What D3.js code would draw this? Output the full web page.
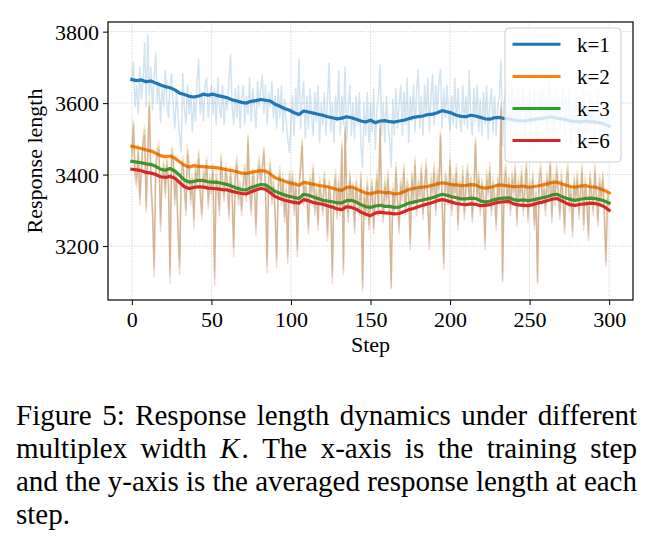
<!DOCTYPE html>
<html><head><meta charset="utf-8">
<script src="https://cdn.jsdelivr.net/npm/d3@7"></script>
<style>body{margin:0;background:#fff}svg{display:block}</style>
</head><body><svg id="c" width="655" height="547"></svg>
<script>
const seriesNames = ["k=1", "k=2", "k=3", "k=6"];
const seriesColors = ["#1f77b4", "#ff7f0e", "#2ca02c", "#d62728"];
const xTicks = [0, 50, 100, 150, 200, 250, 300];
const yTicks = [3200, 3400, 3600, 3800];
const xLabel = "Step";
const yLabel = "Response length";

// raw per-step values (steps 0..300)
const rawK1 = [
3660,3715,3590,3650,3570,3700,3610,3660,3768,3590,
3790,3620,3700,3580,3670,3740,3600,3660,3545,3640,
3590,3692,3600,3560,3650,3683,3590,3530,3630,3570,
3510,3463,3683,3590,3540,3650,3570,3630,3520,3610,
3550,3660,3723,3570,3630,3550,3650,3670,3560,3620,
3650,3570,3640,3540,3670,3590,3560,3650,3540,3620,
3580,3660,3736,3590,3540,3640,3560,3650,3530,3610,
3650,3540,3620,3570,3670,3550,3640,3590,3530,3660,
3590,3640,3678,3570,3650,3540,3630,3590,3660,3560,
3620,3530,3640,3560,3650,3520,3610,3550,3500,3463,
3540,3620,3510,3640,3560,3723,3530,3610,3660,3500,
3620,3530,3640,3560,3510,3630,3550,3650,3490,3600,
3540,3630,3510,3610,3712,3520,3600,3490,3620,3550,
3690,3510,3620,3540,3701,3490,3590,3650,3510,3600,
3500,3620,3540,3630,3480,3421,3600,3510,3630,3490,
3600,3520,3640,3470,3580,3620,3706,3510,3600,3490,
3620,3540,3500,3421,3610,3510,3640,3530,3600,3650,
3510,3630,3540,3670,3490,3620,3550,3650,3520,3640,
3694,3530,3620,3510,3650,3560,3670,3520,3620,3680,
3540,3650,3570,3660,3694,3530,3640,3560,3650,3570,
3524,3620,3540,3670,3530,3640,3560,3520,3650,3540,
3620,3530,3692,3560,3510,3640,3550,3650,3520,3610,
3510,3630,3540,3650,3500,3600,3640,3520,3620,3510,
3590,3620,3720,3480,3600,3640,3520,3620,3500,3650,
3530,3620,3510,3640,3520,3600,3650,3500,3620,3540,
3630,3510,3600,3650,3520,3490,3630,3540,3650,3550,
3620,3520,3670,3540,3630,3500,3640,3550,3650,3520,
3600,3640,3510,3620,3540,3650,3490,3600,3520,3630,
3540,3500,3620,3520,3640,3490,3590,3510,3630,3520,
3600,3500,3580,3630,3510,3490,3600,3520,3500,3580,
3530];
const rawK2 = [
3465,3555,3415,3390,3485,3345,3430,3505,3540,3325,
3475,3615,3395,3315,3160,3435,3480,3495,3280,3410,
3445,3365,3455,3390,3140,3480,3465,3345,3410,3270,
3160,3415,3455,3380,3320,3485,3430,3345,3400,3290,
3435,3390,3470,3365,3305,3420,3395,3450,3335,3400,
3375,3430,3130,3415,3380,3315,3460,3395,3350,3435,
3390,3305,3425,3360,3215,3410,3455,3340,3385,3310,
3395,3430,3355,3515,3370,3315,3420,3395,3265,3410,
3455,3390,3435,3480,3375,3165,3400,3445,3340,3395,
3315,3175,3380,3425,3340,3405,3295,3370,3185,3410,
3365,3410,3315,3390,3205,3375,3430,3500,3345,3390,
3355,3265,3400,3365,3430,3315,3370,3275,3395,3350,
3315,3410,3365,3245,3390,3345,3135,3370,3415,3300,
3395,3310,3495,3155,3545,3365,3295,3410,3345,3380,
3265,3395,3340,3315,3410,3105,3365,3300,3395,3270,
3345,3390,3265,3350,3415,3310,3550,3345,3290,3395,
3340,3415,3300,3105,3375,3310,3435,3340,3265,3390,
3355,3430,3315,3390,3365,3225,3410,3345,3450,3315,
3390,3355,3430,3305,3380,3445,3340,3225,3405,3360,
3435,3310,3415,3370,3525,3355,3170,3410,3395,3340,
3455,3315,3400,3365,3430,3275,3395,3340,3425,3300,
3385,3430,3345,3400,3295,3370,3505,3345,3410,3315,
3390,3355,3225,3415,3360,3435,3310,3395,3350,3275,
3400,3345,3600,3125,3395,3430,3345,3400,3315,3410,
3365,3430,3285,3395,3350,3425,3310,3375,3440,3295,
3390,3345,3410,3275,3365,3120,3400,3435,3340,3385,
3315,3410,3365,3450,3295,3400,3345,3430,3375,3300,
3415,3350,3265,3390,3435,3320,3375,3255,3400,3345,
3410,3305,3365,3430,3275,3395,3340,3245,3410,3365,
3315,3430,3355,3285,3400,3345,3410,3305,3180,3360,
3335];
const rawK3 = [
3450,3545,3400,3380,3470,3330,3420,3490,3525,3310,
3460,3600,3380,3300,3137,3420,3470,3480,3260,3400,
3430,3350,3440,3380,3120,3470,3450,3330,3400,3250,
3141,3400,3440,3370,3300,3470,3420,3330,3390,3272,
3420,3380,3460,3350,3290,3410,3380,3440,3320,3390,
3360,3420,3110,3400,3370,3300,3450,3380,3340,3420,
3380,3290,3410,3350,3195,3400,3440,3330,3370,3300,
3380,3420,3340,3505,3360,3300,3410,3380,3250,3400,
3440,3380,3420,3470,3360,3146,3390,3430,3330,3380,
3300,3160,3370,3410,3330,3390,3280,3360,3169,3400,
3350,3400,3300,3380,3188,3360,3420,3491,3330,3380,
3340,3250,3390,3350,3420,3300,3360,3260,3380,3340,
3300,3400,3350,3230,3380,3330,3114,3360,3400,3290,
3380,3300,3484,3137,3533,3350,3280,3400,3330,3370,
3250,3380,3330,3300,3400,3085,3350,3290,3380,3260,
3330,3380,3250,3340,3400,3300,3543,3330,3280,3380,
3330,3400,3290,3085,3360,3300,3420,3330,3250,3380,
3340,3420,3300,3380,3350,3207,3400,3330,3440,3300,
3380,3340,3420,3290,3370,3430,3330,3207,3390,3350,
3420,3300,3400,3360,3515,3340,3151,3400,3380,3330,
3440,3300,3390,3350,3420,3260,3380,3330,3410,3290,
3370,3420,3330,3390,3280,3360,3496,3330,3400,3300,
3380,3340,3207,3400,3350,3420,3300,3380,3340,3260,
3390,3330,3590,3105,3380,3420,3330,3390,3300,3400,
3350,3420,3270,3380,3340,3410,3300,3360,3430,3280,
3380,3330,3400,3260,3350,3100,3390,3420,3330,3370,
3300,3400,3350,3440,3280,3390,3330,3420,3360,3290,
3400,3340,3250,3380,3420,3310,3360,3240,3390,3330,
3400,3290,3350,3420,3260,3380,3330,3230,3400,3350,
3300,3420,3340,3270,3390,3330,3400,3290,3155,3350,
3320];
const rawK6 = [
3440,3535,3385,3365,3460,3315,3405,3480,3510,3295,
3450,3590,3365,3285,3115,3405,3455,3470,3240,3385,
3420,3335,3425,3365,3095,3455,3440,3315,3385,3230,
3120,3385,3430,3355,3285,3455,3405,3315,3375,3250,
3405,3365,3445,3335,3275,3395,3365,3425,3305,3375,
3345,3405,3090,3385,3355,3285,3435,3365,3325,3405,
3365,3275,3395,3335,3170,3385,3425,3315,3355,3285,
3365,3405,3325,3490,3345,3285,3395,3365,3230,3385,
3425,3365,3405,3460,3345,3125,3375,3415,3315,3365,
3285,3140,3355,3395,3315,3375,3265,3345,3150,3385,
3335,3385,3285,3365,3170,3345,3405,3480,3315,3365,
3325,3235,3375,3335,3405,3285,3345,3245,3365,3325,
3285,3385,3335,3215,3365,3315,3095,3345,3385,3275,
3365,3285,3470,3120,3520,3335,3265,3385,3315,3355,
3235,3365,3315,3285,3385,3075,3335,3275,3365,3245,
3315,3365,3235,3325,3385,3285,3530,3315,3265,3365,
3315,3385,3275,3080,3345,3285,3405,3315,3235,3365,
3325,3405,3285,3365,3335,3190,3385,3315,3425,3285,
3365,3325,3405,3275,3355,3415,3315,3190,3375,3335,
3405,3285,3385,3345,3505,3325,3135,3385,3365,3315,
3425,3285,3375,3335,3405,3245,3365,3315,3395,3275,
3355,3405,3315,3375,3265,3345,3485,3315,3385,3285,
3365,3325,3190,3385,3335,3405,3285,3365,3325,3245,
3375,3315,3580,3100,3365,3405,3315,3375,3285,3385,
3335,3405,3255,3365,3325,3395,3285,3345,3415,3265,
3365,3315,3385,3245,3335,3095,3375,3405,3315,3355,
3285,3385,3335,3425,3265,3375,3315,3405,3345,3275,
3385,3325,3235,3365,3405,3295,3345,3225,3375,3315,
3385,3275,3335,3405,3245,3365,3315,3215,3385,3335,
3285,3405,3325,3255,3375,3315,3385,3275,3145,3335,
3300];

// smoothed values every 3 steps (0,3,...,300)
const smoothK1 = [3666,3663,3665,3660,3662,3656,3651,3646,3643,3637,3628,3624,3619,3617,3620,3625,3622,3625,3621,3618,3615,3609,3606,3602,3600,3605,3607,3610,3608,3606,3597,3591,3585,3580,3573,3568,3578,3575,3572,3569,3566,3562,3559,3556,3558,3562,3559,3555,3550,3547,3552,3545,3550,3551,3548,3547,3550,3552,3556,3560,3562,3564,3568,3569,3573,3579,3576,3572,3566,3563,3562,3566,3564,3560,3556,3555,3559,3560,3557,3556,3553,3551,3550,3552,3554,3556,3557,3560,3561,3558,3556,3553,3550,3549,3547,3550,3548,3547,3545,3542,3535];
const smoothK2 = [3479,3476,3473,3469,3466,3460,3453,3450,3452,3446,3436,3426,3421,3425,3423,3422,3421,3420,3419,3416,3413,3411,3408,3404,3403,3406,3409,3411,3410,3402,3391,3386,3381,3377,3374,3370,3378,3376,3373,3370,3368,3366,3362,3358,3356,3364,3365,3360,3354,3348,3346,3350,3352,3349,3350,3346,3347,3352,3358,3361,3364,3365,3367,3370,3374,3377,3375,3372,3371,3369,3370,3372,3371,3365,3362,3364,3368,3371,3370,3368,3366,3367,3368,3365,3366,3368,3371,3374,3378,3379,3374,3370,3366,3365,3368,3369,3366,3365,3361,3356,3349];
const smoothK3 = [3437,3435,3433,3430,3428,3423,3415,3412,3417,3410,3398,3385,3379,3381,3384,3383,3380,3379,3378,3375,3372,3367,3362,3358,3357,3364,3368,3372,3371,3362,3353,3348,3343,3339,3336,3333,3345,3342,3337,3333,3328,3326,3324,3321,3321,3327,3328,3323,3316,3310,3308,3312,3314,3311,3311,3308,3309,3314,3320,3323,3326,3329,3332,3335,3340,3345,3342,3338,3335,3332,3332,3334,3333,3327,3323,3326,3330,3333,3334,3335,3330,3328,3329,3327,3329,3332,3335,3338,3343,3345,3339,3334,3330,3328,3331,3333,3334,3333,3330,3326,3320];
const smoothK6 = [3415,3413,3411,3406,3404,3400,3394,3392,3395,3390,3378,3366,3361,3364,3366,3365,3362,3361,3360,3358,3357,3353,3350,3347,3346,3352,3357,3361,3359,3349,3339,3333,3328,3325,3322,3320,3330,3327,3322,3319,3317,3313,3309,3304,3302,3310,3308,3303,3295,3289,3285,3292,3295,3293,3292,3290,3291,3296,3302,3305,3310,3314,3318,3322,3327,3330,3327,3323,3319,3317,3316,3318,3317,3313,3314,3316,3320,3323,3324,3325,3318,3315,3314,3313,3316,3320,3323,3327,3331,3333,3327,3320,3315,3314,3317,3318,3320,3319,3316,3310,3300];

const captionLines = [
  [["Figure",0],["5:",0],["Response",0],["length",0],["dynamics",0],["under",0],["different",0]],
  [["multiplex",0],["width",0],["K",1],[".",0],["The",0],["x-axis",0],["is",0],["the",0],["training",0],["step",0]],
  [["and",0],["the",0],["y-axis",0],["is",0],["the",0],["averaged",0],["response",0],["length",0],["at",0],["each",0]],
  [["step.",0]]
];

const rawData = [rawK1, rawK2, rawK3, rawK6];
const smoothData = [smoothK1, smoothK2, smoothK3, smoothK6];
const SMOOTH_EVERY = 3;

const FONT = "'Liberation Serif','Times New Roman',Times,serif";
const svg = d3.select("#c");
const L = 108, R = 633, T = 22, B = 300;
const x = d3.scaleLinear().domain([-15, 315]).range([L, R]);
const y = d3.scaleLinear().domain([3049, 3827]).range([B, T]);

// grid
const grid = svg.append("g");
grid.selectAll("line.gx").data(xTicks).join("line")
  .attr("x1", d => x(d)).attr("x2", d => x(d)).attr("y1", T).attr("y2", B)
  .attr("stroke", "#b0b0b0").attr("stroke-width", 0.8).attr("stroke-dasharray", "1,1.6").attr("opacity", 0.8);
grid.selectAll("line.gy").data(yTicks).join("line")
  .attr("y1", d => y(d)).attr("y2", d => y(d)).attr("x1", L).attr("x2", R)
  .attr("stroke", "#b0b0b0").attr("stroke-width", 0.8).attr("stroke-dasharray", "1,1.6").attr("opacity", 0.8);

const rawLine = d3.line().x((d, i) => x(i)).y(d => y(d));
const smLine = d3.line().x((d, i) => x(i * SMOOTH_EVERY)).y(d => y(d));

const plot = svg.append("g");
for (let s = 0; s < 4; s++) {
  plot.append("path").attr("d", rawLine(rawData[s]))
    .attr("fill", "none").attr("stroke", seriesColors[s]).attr("stroke-width", 1.5)
    .attr("stroke-opacity", 0.2).attr("stroke-linejoin", "round");
  plot.append("path").attr("d", smLine(smoothData[s]))
    .attr("fill", "none").attr("stroke", seriesColors[s]).attr("stroke-width", 3.2)
    .attr("stroke-linejoin", "round").attr("stroke-linecap", "square");
}

// axes
const xAxis = svg.append("g").attr("transform", `translate(0,${B})`)
  .call(d3.axisBottom(x).tickValues(xTicks).tickSize(5).tickPadding(4).tickFormat(d3.format("d")));
const yAxis = svg.append("g").attr("transform", `translate(${L},0)`)
  .call(d3.axisLeft(y).tickValues(yTicks).tickSize(5).tickPadding(4).tickFormat(d3.format("d")));
[xAxis, yAxis].forEach(a => {
  a.select(".domain").remove();
  a.selectAll(".tick line").attr("stroke", "#000").attr("stroke-width", 1);
  a.selectAll(".tick text").attr("font-family", FONT).attr("font-size", 22).attr("fill", "#000");
});
yAxis.selectAll(".tick text").attr("dy", "0.34em");
xAxis.selectAll(".tick text").attr("dy", "0.8em");

svg.append("rect").attr("x", L).attr("y", T).attr("width", R - L).attr("height", B - T)
  .attr("fill", "none").attr("stroke", "#000").attr("stroke-width", 1.2);

svg.append("text").attr("x", (L + R) / 2).attr("y", 352).attr("text-anchor", "middle")
  .attr("font-family", FONT).attr("font-size", 22).text(xLabel);
svg.append("text").attr("transform", `translate(42,${(T + B) / 2}) rotate(-90)`).attr("text-anchor", "middle")
  .attr("font-family", FONT).attr("font-size", 22).text(yLabel);

// legend
const lg = svg.append("g");
lg.append("rect").attr("x", 505).attr("y", 28).attr("width", 116).attr("height", 134).attr("rx", 4)
  .attr("fill", "#fff").attr("fill-opacity", 0.8).attr("stroke", "#cccccc").attr("stroke-width", 1);
seriesNames.forEach((n, i) => {
  const yy = 44.3 + i * 32.1;
  lg.append("line").attr("x1", 512.5).attr("x2", 560.5).attr("y1", yy).attr("y2", yy)
    .attr("stroke", seriesColors[i]).attr("stroke-width", 3);
  lg.append("text").attr("x", 577).attr("y", yy + 7.5).attr("font-family", FONT).attr("font-size", 21).text(n);
});

// caption (justified)
const CW0 = 16, CW1 = 637, CFS = 29;
captionLines.forEach((words, li) => {
  const by = 425 + li * 33;
  const g = svg.append("g");
  const nodes = words.map(([w, it]) => g.append("text").attr("y", by)
    .attr("font-family", FONT).attr("font-size", CFS).attr("font-style", it ? "italic" : "normal").text(w));
  const widths = nodes.map(n => n.node().getComputedTextLength());
  const total = d3.sum(widths);
  const justify = li < captionLines.length - 1 && words.length > 1;
  const joins = words.filter(w => w[0] === "K").length;
  const nGaps = words.length - 1 - joins;
  const gap = justify ? (CW1 - CW0 - total - 2 * joins) / nGaps : CFS * 0.25;
  let cx = CW0;
  nodes.forEach((n, k) => {
    n.attr("x", cx);
    cx += widths[k];
    if (k < nodes.length - 1) cx += (words[k][0] === "K") ? 2 : gap;
  });
});
</script>
</body></html>
